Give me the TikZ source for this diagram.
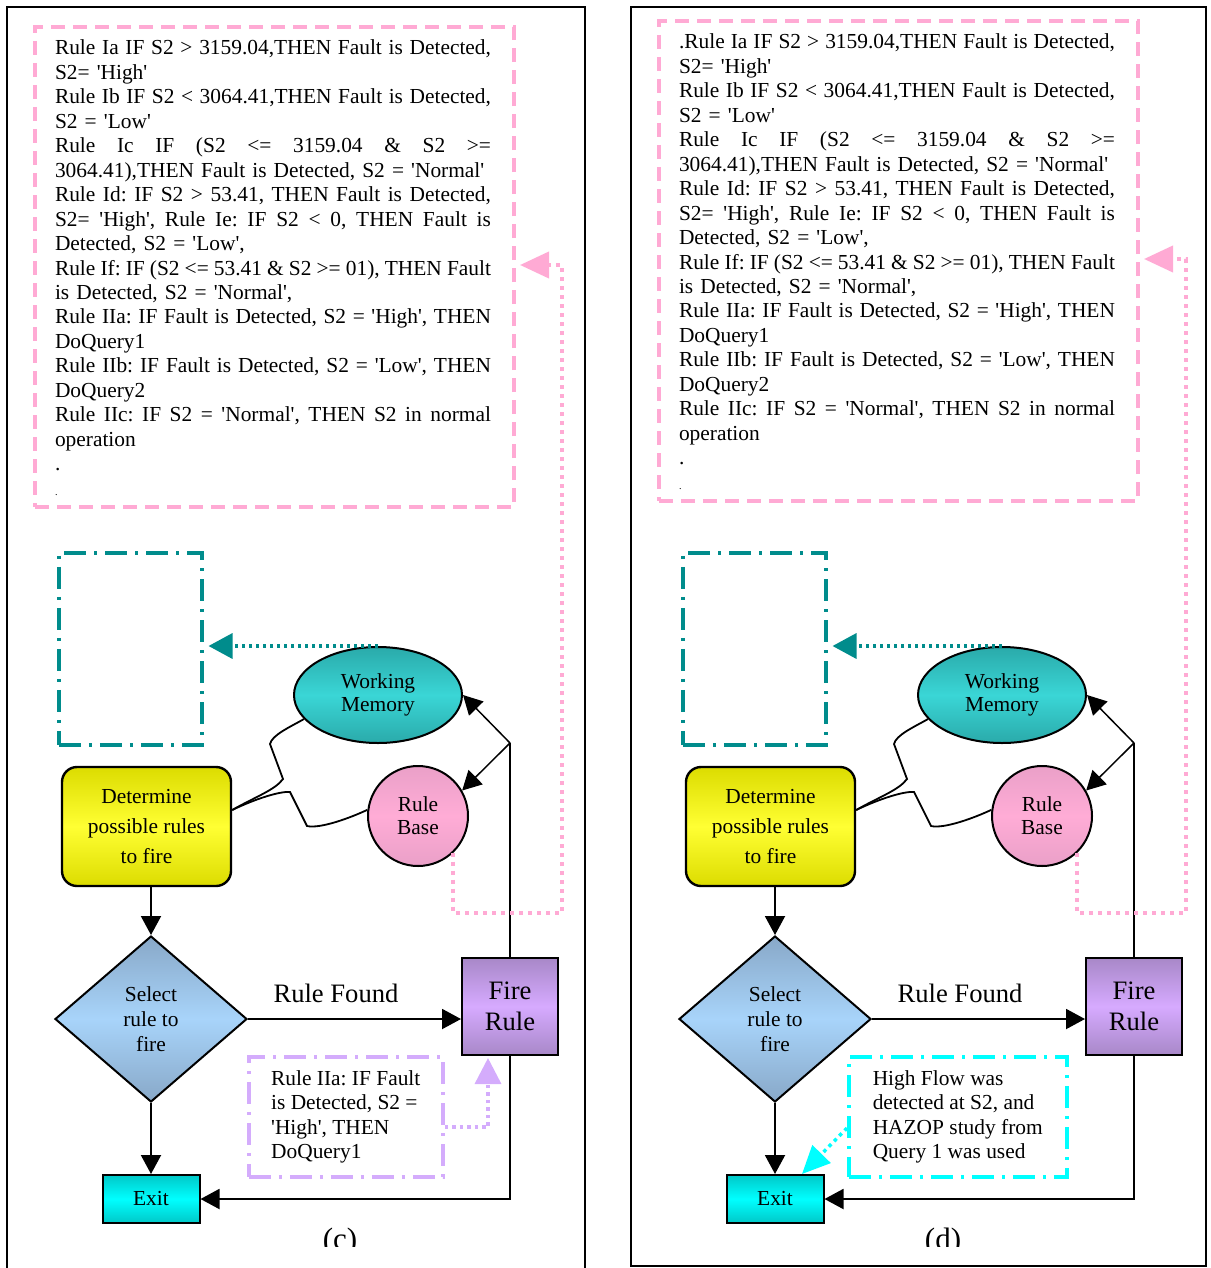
\documentclass[tikz,border=0pt]{standalone}
\usepackage{fontspec}
\setmainfont{Liberation Serif}
\usetikzlibrary{shapes.geometric,arrows.meta}

\definecolor{rulepink}{RGB}{255,170,212}
\definecolor{boxteal}{RGB}{0,140,140}
\definecolor{notelav}{RGB}{212,172,252}
\definecolor{notecyan}{RGB}{0,255,255}
\definecolor{yeledge}{RGB}{220,220,0}
\definecolor{yelmid}{RGB}{255,255,51}
\definecolor{memedge}{RGB}{42,170,170}
\definecolor{memmid}{RGB}{58,214,214}
\definecolor{rbedge}{RGB}{234,160,200}
\definecolor{rbmid}{RGB}{255,172,214}
\definecolor{seledge}{RGB}{136,168,200}
\definecolor{selmid}{RGB}{168,212,250}
\definecolor{fireedge}{RGB}{168,136,200}
\definecolor{firemid}{RGB}{214,170,255}
\definecolor{exitedge}{RGB}{0,200,200}

\newcommand{\sqt}{\textquotesingle}
\newcommand{\fsz}[2]{\fontsize{#1}{#2}\selectfont\spaceskip=0.25em plus 0.1em minus 0.05em\relax}
\newcommand{\jline}[1]{\leavevmode\hbox to 218pt{\spaceskip=0.25em plus 1fil minus 0.08em\relax #1}}

\tikzset{every picture/.style={line width=1pt}}
\tikzset{
  flow/.style={-{Triangle[length=9.5pt,width=10pt]}},
  shaded/.style 2 args={top color=#1, bottom color=#1, middle color=#2},
  detbox/.style={draw, line width=1.2pt, rounded corners=7.5pt, minimum width=84.5pt, minimum height=59.5pt, shaded={yeledge}{yelmid}, align=center, font=\fsz{10.7}{15}},
  membox/.style={draw, ellipse, minimum width=84pt, minimum height=48pt, inner sep=0pt, shaded={memedge}{memmid}, align=center, font=\fsz{10.7}{11.5}},
  rbcircle/.style={draw, circle, minimum size=50pt, inner sep=0pt, shaded={rbedge}{rbmid}, align=center, font=\fsz{10.7}{11.5}},
  seldiamond/.style={draw, diamond, minimum width=96pt, minimum height=83pt, inner sep=0pt, shaded={seledge}{selmid}, align=center, font=\fsz{10.7}{12.5}},
  firebox/.style={draw, minimum width=48pt, minimum height=48.5pt, inner sep=0pt, shaded={fireedge}{firemid}, align=center, font=\fsz{13.3}{15.5}},
  exitbox/.style={draw, minimum width=48.5pt, minimum height=24pt, inner sep=0pt, shaded={exitedge}{notecyan}, font=\fsz{10.7}{12}},
  rulesbox/.style={draw=rulepink, line width=2pt, dash pattern=on 7pt off 4pt, minimum width=239.5pt, minimum height=240pt, anchor=north west, inner sep=0pt},
  wmframe/.style={draw=boxteal, line width=1.75pt, dash pattern=on 11pt off 4pt on 1.5pt off 4pt, minimum width=71.5pt, minimum height=96pt, anchor=north west, inner sep=0pt},
  lavnote/.style={draw=notelav, line width=1.75pt, dash pattern=on 11pt off 4pt on 1.5pt off 4pt, minimum width=97pt, minimum height=60pt, anchor=north west, align=left, font=\fsz{10.7}{12.2}},
  cyannote/.style={draw=notecyan, line width=1.75pt, dash pattern=on 11pt off 4pt on 1.5pt off 4pt, minimum width=109pt, minimum height=60pt, anchor=north west, align=left, font=\fsz{10.7}{12.2}},
  pinkdot/.style={draw=rulepink, line width=2pt, dash pattern=on 2pt off 2.5pt, -{Triangle[length=14.5pt,width=13pt]}, shorten >=2pt},
  tealdot/.style={draw=boxteal, line width=1.75pt, dash pattern=on 1.75pt off 1.75pt, -{Triangle[length=12pt,width=12.5pt]}, shorten >=2.5pt},
  lavdot/.style={draw=notelav, line width=1.75pt, dash pattern=on 1.75pt off 2pt, -{Triangle[length=13pt,width=13pt]}, shorten >=1pt},
  cyandot/.style={draw=notecyan, line width=1.75pt, dash pattern=on 1.75pt off 2pt, -{Triangle[length=14pt,width=12.5pt]}}
}

\begin{document}
\frenchspacing
\begin{tikzpicture}[x=0.5pt,y=0.5pt,yscale=-1,xscale=1]
\useasboundingbox (0,0) rectangle (1210,1268);

%Panel frames
\draw (7,1280) -- (7,7) -- (585,7) -- (585,1280);
\draw (631,7) rectangle (1206,1266);

%Both panels share the same flow chart
\foreach \dx/\dy/\p/\lead in {0/0/c/{}, 624/-6/d/.}{
\begin{scope}[shift={(\dx,0)}, name prefix=\p-]
%Rule list
\node (rules) [rulesbox] at (33,25+\dy) {};
\node (rulestxt) [anchor=base west, text width=218pt, inner sep=0pt, font=\fsz{10.7}{12.225}] at (54,55+\dy) {%
\jline{\lead Rule Ia IF S2 > 3159.04,THEN Fault is Detected,}\\
S2= \sqt High\sqt\\
\jline{Rule Ib IF S2 < 3064.41,THEN Fault is Detected,}\\
S2 = \sqt Low\sqt\\
\jline{Rule Ic IF (S2 <= 3159.04 \& S2 >=}\\
3064.41),THEN Fault is Detected, S2 = \sqt Normal\sqt\\
\jline{Rule Id: IF S2 > 53.41, THEN Fault is Detected,}\\
\jline{S2= \sqt High\sqt, Rule Ie: IF S2 < 0, THEN Fault is}\\
Detected, S2 = \sqt Low\sqt,\\
\jline{Rule If: IF (S2 <= 53.41 \& S2 >= 01), THEN Fault}\\
is Detected, S2 = \sqt Normal\sqt,\\
\jline{Rule IIa: IF Fault is Detected, S2 = \sqt High\sqt, THEN}\\
DoQuery1\\
\jline{Rule IIb: IF Fault is Detected, S2 = \sqt Low\sqt, THEN}\\
DoQuery2\\
\jline{Rule IIc: IF S2 = \sqt Normal\sqt, THEN S2 in normal}\\
operation\\
.\\
{\tiny .}};

%Shapes
\node (wmbox) [wmframe] at (57,551) {};
\node (wm) [membox] at (378,695) {Working\\Memory};
\node (rb) [rbcircle] at (418,816) {Rule\\Base};
\node (det) [detbox] at (146.5,826.5) {Determine\\possible rules\\to fire};
\node (dia) [seldiamond] at (151,1019) {Select\\rule to\\fire};
\node (fire) [firebox] at (510,1006.5) {\raisebox{2pt}{\parbox{40pt}{\centering Fire\\Rule}}};
\node (exit) [exitbox] at (151,1199) {Exit};
\node (found) [font=\fsz{13.3}{16}] at (336,993) {Rule Found};
\coordinate (jn) at (510,743);

%Connectors
\draw[flow] (det.south -| dia.north) -- (dia.north);
\draw[flow] (dia.east) -- (dia.east -| fire.west);
\draw[flow] (dia.south) -- (dia.south |- exit.north);
\draw[flow] (fire.south) |- (exit.east);
\draw[line width=0.75pt] (fire.north) -- (jn);
\draw[flow, line width=0.75pt] (jn) -- (wm.east);
\draw[flow, line width=0.75pt] (jn) -- (rb.30);
\draw[line width=0.9pt] (det.east |- 0,810) .. controls (255,797) and (275,790) .. (283,779) -- (270,744) .. controls (272,735) and (290,727) .. (wm.198);
\draw[line width=0.9pt] (det.east |- 0,810) .. controls (255,799) and (280,791) .. (290,792) -- (307,826) .. controls (320,829) and (350,818) .. (rb.173);
\draw[tealdot] (wm.north) -- (wm.north -| wmbox.east);
\draw[pinkdot] (rb.-46) |- (562,913) -- (562,265+\dy) -- (rules.east |- 0,265+\dy);
\end{scope}
}

%Notes
\node (c-note) [lavnote] at (247,1055) {Rule IIa: IF Fault\\is Detected, S2 =\\\sqt High\sqt, THEN\\DoQuery1};
\draw[lavdot] (c-note.east |- 0,1127) -| (c-fire.south -| 488,0);
\node (d-note) [cyannote] at (847,1055) {High Flow was\\detected at S2, and\\HAZOP study from\\Query 1 was used};
\draw[cyandot] (d-note.west |- 0,1128) -- (d-exit.north -| 802,0);

%Panel labels
\begin{scope}
\clip (0,0) rectangle (1210,1246.5);
\node (labc) [anchor=base, font=\fsz{15.5}{17}] at (340,1249) {(c)};
\node (labd) [anchor=base, font=\fsz{15.5}{17}] at (943,1249) {(d)};
\end{scope}

\end{tikzpicture}
\end{document}
